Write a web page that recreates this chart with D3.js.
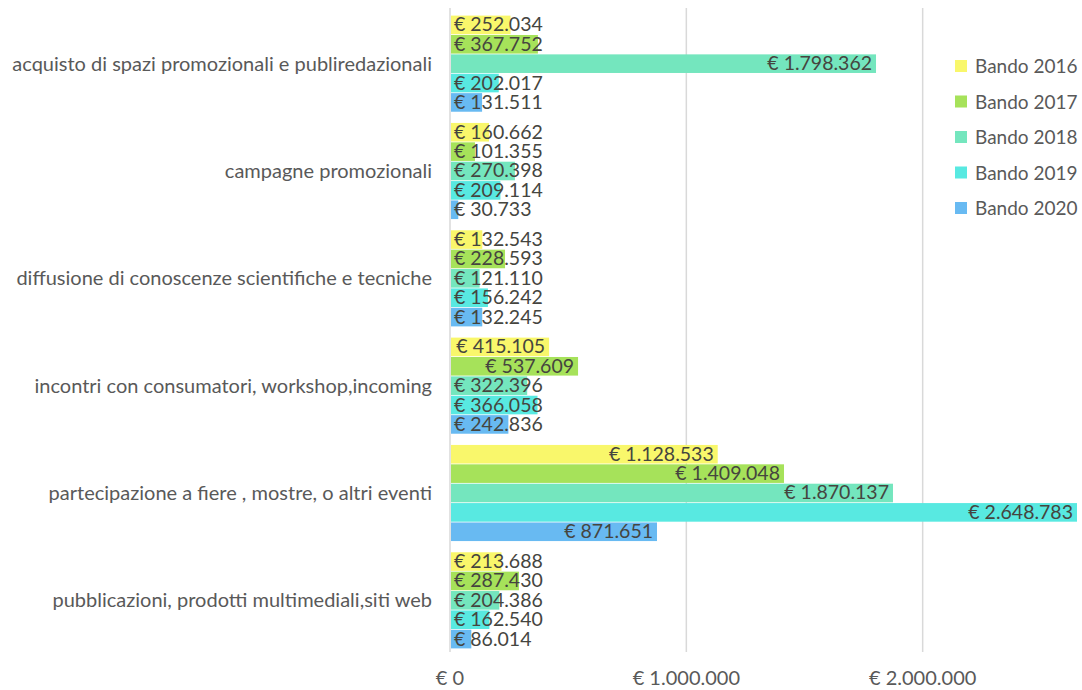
<!DOCTYPE html>
<html><head><meta charset="utf-8">
<script src="https://cdn.jsdelivr.net/npm/d3@7"></script>
<style>body{margin:0;background:#fff}svg{display:block}</style>
</head><body>
<svg id="c" width="1082" height="690"></svg>
<script>
const categories = [
  "acquisto di spazi promozionali e publiredazionali",
  "campagne promozionali",
  "diffusione di conoscenze scientifiche e tecniche",
  "incontri con consumatori, workshop,incoming",
  "partecipazione a fiere , mostre, o altri eventi",
  "pubblicazioni, prodotti multimediali,siti web"
];
const seriesNames = ["Bando 2016","Bando 2017","Bando 2018","Bando 2019","Bando 2020"];
const bando2016 = [252034, 160662, 132543, 415105, 1128533, 213688];
const bando2017 = [367752, 101355, 228593, 537609, 1409048, 287430];
const bando2018 = [1798362, 270398, 121110, 322396, 1870137, 204386];
const bando2019 = [202017, 209114, 156242, 366058, 2648783, 162540];
const bando2020 = [131511, 30733, 132245, 242836, 871651, 86014];
const tickValues = [0, 1000000, 2000000];
const colors = ["#F9F76B","#A6E25A","#74E6BE","#58E9E1","#68BAF2"];

const series = [bando2016,bando2017,bando2018,bando2019,bando2020];
const loc = d3.formatLocale({decimal:",", thousands:".", grouping:[3], currency:["€ ",""]});
const fmt = v => "€ " + loc.format(",")(v);

const svg = d3.select("#c");
const font = "Lato, 'Open Sans', sans-serif";
const x = d3.scaleLinear().domain([0, 2648783]).range([450, 1076]);
const y0 = d3.scaleBand().domain(categories).range([10, 654]).paddingInner(0.09).paddingOuter(0.045);
const y1 = d3.scaleBand().domain(seriesNames).range([0, y0.bandwidth()]).padding(0.04);

// gridlines
svg.append("g").selectAll("line").data(tickValues.slice(1)).join("line")
  .attr("x1", d=>x(d)).attr("x2", d=>x(d)).attr("y1", 8).attr("y2", 652)
  .attr("stroke", "#d9d9d9").attr("stroke-width", 1.5);
// axis line
svg.append("line").attr("x1", x(0)).attr("x2", x(0)).attr("y1", 8).attr("y2", 652)
  .attr("stroke", "#d9d9d9").attr("stroke-width", 1.5);

// tick labels
svg.append("g").selectAll("text").data(tickValues).join("text")
  .attr("x", d=>x(d)).attr("y", 685).attr("text-anchor","middle")
  .attr("font-family", font).attr("font-size", 20).attr("fill","#595959")
  .text(d => d===0 ? "€ 0" : fmt(d));

// category labels
svg.append("g").selectAll("text").data(categories).join("text")
  .attr("x", 432).attr("y", d=>y0(d)+y0.bandwidth()/2 + 7).attr("text-anchor","end")
  .attr("font-family", font).attr("font-size", 20).attr("fill","#595959")
  .text(d=>d);

// bars
const groups = svg.append("g").selectAll("g").data(categories).join("g")
  .attr("transform", d=>`translate(0,${y0(d)})`);
groups.each(function(cat, ci){
  const g = d3.select(this);
  seriesNames.forEach((s, si) => {
    const v = series[si][ci];
    g.append("rect").attr("x", x(0)+1).attr("y", y1(s))
      .attr("width", x(v)-x(0)).attr("height", y1.bandwidth()).attr("fill", colors[si]);
  });
  seriesNames.forEach((s, si) => {
    const v = series[si][ci];
    const t = g.append("text").attr("y", y1(s)+y1.bandwidth()/2+6.5)
      .attr("font-family", font).attr("font-size", 19.5).attr("fill","#45453f").text(fmt(v));
    const w = t.node().getComputedTextLength();
    const end = x(v) - 3;
    if (end - w > x(0) + 4) t.attr("x", end).attr("text-anchor","end");
    else t.attr("x", x(0) + 4).attr("text-anchor","start");
  });
});

// legend
const leg = svg.append("g").selectAll("g").data(seriesNames).join("g")
  .attr("transform", (d,i)=>`translate(955,${66 + i*35.5})`);
leg.append("rect").attr("x",0).attr("y",-6).attr("width",12).attr("height",12).attr("fill",(d,i)=>colors[i]);
leg.append("text").attr("x",20).attr("y",7).attr("font-family",font).attr("font-size",19).attr("fill","#595959").text(d=>d);
</script>
</body></html>
